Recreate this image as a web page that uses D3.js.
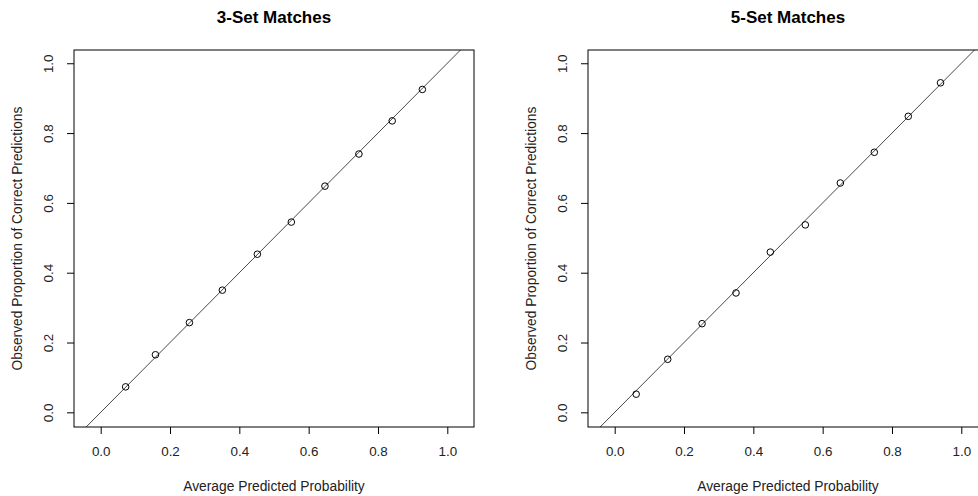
<!DOCTYPE html>
<html>
<head>
<meta charset="utf-8">
<script src="https://cdn.jsdelivr.net/npm/d3@7"></script>
<style>
  body { margin: 0; background: #fff; }
  svg { display: block; font-family: "Liberation Sans", Arial, sans-serif; }
  .axis text { font-size: 13.4px; fill: #222; }
  .axis line { stroke: #000; }
  .axis path { display: none; }
</style>
</head>
<body>
<div id="chart"></div>
<script>
// calibration data
var panel_titles = ['3-Set Matches', '5-Set Matches'];
var predicted_3 = [0.072, 0.158, 0.256, 0.351, 0.452, 0.550, 0.647, 0.745, 0.841, 0.928];
var observed_3  = [0.073, 0.165, 0.257, 0.350, 0.453, 0.545, 0.648, 0.740, 0.835, 0.925];
var predicted_5 = [0.062, 0.153, 0.252, 0.350, 0.449, 0.550, 0.651, 0.749, 0.847, 0.940];
var observed_5  = [0.052, 0.152, 0.254, 0.342, 0.459, 0.537, 0.657, 0.745, 0.848, 0.944];
var tick_values = [0, 0.2, 0.4, 0.6, 0.8, 1.0];
var x_label = 'Average Predicted Probability';
var y_label = 'Observed Proportion of Correct Predictions';

var W = 978, H = 496;
var svg = d3.select('#chart').append('svg')
  .attr('width', W)
  .attr('height', H);

function draw_panel(i, left, title, xs, ys) {
  var box = { left: left, right: left + 400, top: 50, bottom: 427 };

  var x = d3.scaleLinear().domain([-0.077, 1.077]).range([box.left, box.right]);
  var y = d3.scaleLinear().domain([-0.042, 1.038]).range([box.bottom, box.top]);

  var g = svg.append('g').attr('class', 'panel');

  g.append('clipPath')
    .attr('id', 'clip' + i)
    .append('rect')
    .attr('x', box.left)
    .attr('y', box.top)
    .attr('width', box.right - box.left)
    .attr('height', box.bottom - box.top);

  // y = x reference line
  g.append('line')
    .attr('clip-path', `url(#clip${i})`)
    .attr('x1', x(-0.2)).attr('y1', y(-0.2))
    .attr('x2', x(1.2)).attr('y2', y(1.2))
    .attr('stroke', '#333')
    .attr('stroke-width', 0.9);

  g.selectAll('circle')
    .data(xs.map((v, k) => [v, ys[k]]))
    .join('circle')
    .attr('cx', d => x(d[0]))
    .attr('cy', d => y(d[1]))
    .attr('r', 3.3)
    .attr('fill', 'none')
    .attr('stroke', '#000')
    .attr('stroke-width', 1);

  g.append('g')
    .attr('class', 'axis x-axis')
    .attr('transform', `translate(0, ${box.bottom})`)
    .call(d3.axisBottom(x)
          .tickValues(tick_values)
          .tickSize(7)
          .tickPadding(12)
          .tickFormat(d3.format('.1f')));

  g.append('g')
    .attr('class', 'axis y-axis')
    .attr('transform', `translate(${box.left}, 0)`)
    .call(d3.axisLeft(y)
          .tickValues(tick_values)
          .tickSize(7)
          .tickFormat(d3.format('.1f')));

  g.selectAll('.y-axis .tick text')
    .attr('x', null)
    .attr('dy', null)
    .attr('text-anchor', 'middle')
    .attr('transform', 'translate(-21, 0) rotate(-90)');

  g.append('rect')
    .attr('x', box.left)
    .attr('y', box.top)
    .attr('width', box.right - box.left)
    .attr('height', box.bottom - box.top)
    .attr('fill', 'none')
    .attr('stroke', '#000')
    .attr('stroke-width', 1);

  g.append('text')
    .attr('x', (box.left + box.right) / 2)
    .attr('y', 23)
    .attr('text-anchor', 'middle')
    .attr('font-weight', 'bold')
    .attr('font-size', 17)
    .attr('fill', '#000')
    .text(title);

  g.append('text')
    .attr('x', (box.left + box.right) / 2)
    .attr('y', 491)
    .attr('text-anchor', 'middle')
    .attr('font-size', 13.8)
    .attr('fill', '#222')
    .text(x_label);

  g.append('text')
    .attr('transform', `translate(${box.left - 52}, ${(box.top + box.bottom) / 2}) rotate(-90)`)
    .attr('text-anchor', 'middle')
    .attr('font-size', 13.8)
    .attr('fill', '#222')
    .text(y_label);
}

draw_panel(0, 74, panel_titles[0], predicted_3, observed_3);
draw_panel(1, 588, panel_titles[1], predicted_5, observed_5);
</script>
</body>
</html>
